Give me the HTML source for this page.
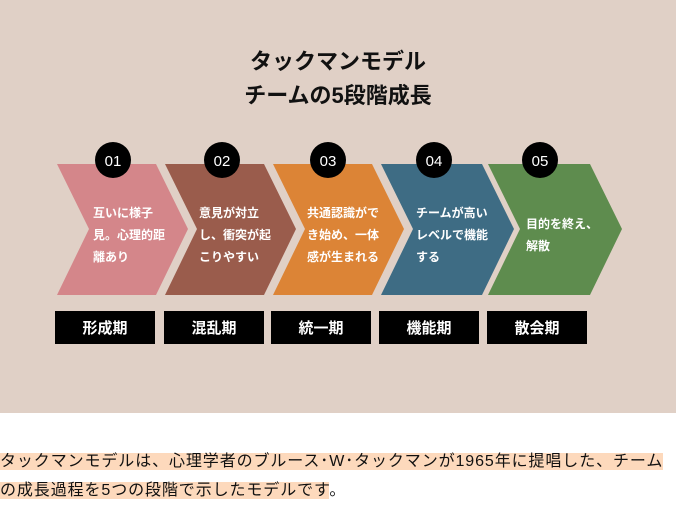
<!DOCTYPE html>
<html><head><meta charset="utf-8"><style>
body{margin:0;width:676px;height:506px;background:#fff;font-family:"Liberation Sans","Noto Sans CJK JP",sans-serif;overflow:hidden}
.top{position:absolute;left:0;top:0;width:676px;height:413px;background:#e0d0c6}
.p{position:absolute;left:0;top:447px;width:690px;font-size:16px;line-height:29px;color:#111;letter-spacing:0.9px;white-space:nowrap}
.p span{background:#fdd9bc}
</style></head><body>
<div class="top">
<svg width="676" height="413" xmlns="http://www.w3.org/2000/svg" font-family="Liberation Sans, Noto Sans CJK JP, sans-serif">
<text x="338" y="69" text-anchor="middle" font-size="22" font-weight="bold" fill="#111">タックマンモデル</text>
<text x="338" y="103" text-anchor="middle" font-size="22" font-weight="bold" fill="#111">チームの5段階成長</text>
<g>
<polygon points="57,164 156,164 188,229 156,295 57,295 89,229" fill="#d4868a"/>
<polygon points="165,164 264,164 296,229 264,295 165,295 197,229" fill="#9a5c4c"/>
<polygon points="273,164 372,164 404,229 372,295 273,295 305,229" fill="#dc8436"/>
<polygon points="381,164 482,164 514,229 482,295 381,295 413,229" fill="#3e6c84"/>
<polygon points="488,164 590,164 622,229 590,295 488,295 520,229" fill="#5e8c4e"/>
</g>
<g fill="#000">
<circle cx="113" cy="160" r="18"/><circle cx="222" cy="160" r="18"/><circle cx="328" cy="160" r="18"/><circle cx="434" cy="160" r="18"/><circle cx="540" cy="160" r="18"/>
</g>
<g fill="#fff" font-size="15" text-anchor="middle">
<text x="113" y="166">01</text><text x="222" y="166">02</text><text x="328" y="166">03</text><text x="434" y="166">04</text><text x="540" y="166">05</text>
</g>
<g fill="#fff" font-size="12" font-weight="bold">
<text x="93" y="217">互いに様子</text><text x="93" y="239">見。心理的距</text><text x="93" y="261">離あり</text>
<text x="199" y="217">意見が対立</text><text x="199" y="239">し、衝突が起</text><text x="199" y="261">こりやすい</text>
<text x="307" y="217">共通認識がで</text><text x="307" y="239">き始め、一体</text><text x="307" y="261">感が生まれる</text>
<text x="416" y="217">チームが高い</text><text x="416" y="239">レベルで機能</text><text x="416" y="261">する</text>
<text x="526" y="228">目的を終え、</text><text x="526" y="250">解散</text>
</g>
<g fill="#000">
<rect x="55" y="311" width="100" height="33"/><rect x="164" y="311" width="100" height="33"/><rect x="271" y="311" width="100" height="33"/><rect x="379" y="311" width="100" height="33"/><rect x="487" y="311" width="100" height="33"/>
</g>
<g fill="#fff" font-size="15" font-weight="bold" text-anchor="middle">
<text x="105" y="333">形成期</text><text x="214" y="333">混乱期</text><text x="321" y="333">統一期</text><text x="429" y="333">機能期</text><text x="537" y="333">散会期</text>
</g>
</svg>
</div>
<div class="p"><span>タックマンモデルは、心理学者のブルース･W･タックマンが1965年に提唱した、チーム</span><br><span>の成長過程を5つの段階で示したモデルです</span>。</div>
</body></html>
